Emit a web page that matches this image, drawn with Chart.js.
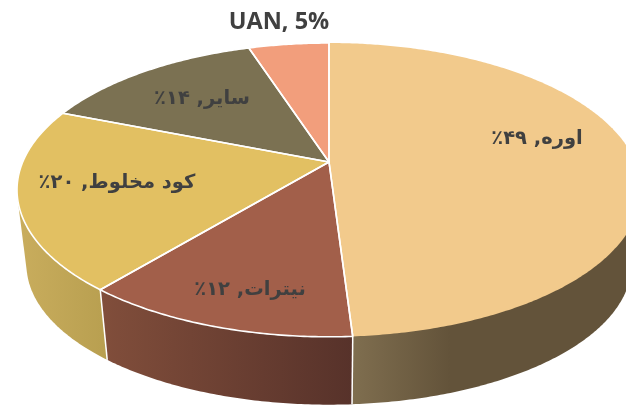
<!DOCTYPE html>
<html><head><meta charset="utf-8">
<style>html,body{margin:0;padding:0;background:#fff;overflow:hidden}canvas{display:block}</style>
<script src="https://cdn.jsdelivr.net/npm/chart.js@4"></script>
</head><body><canvas id="c" width="626" height="405"></canvas>
<script>
const categories = ['اوره','نیترات','کود مخلوط','سایر','UAN'];
const values = [49,12,20,14,5];
const valueLabels = ['۴۹٪','۱۲٪','۲۰٪','۱۴٪','5%'];
const topColors = ['#f2ca8c','#a25f4a','#e2c062','#7b7152','#f29e7c'];

const labelAnchors = [[537,139],[250,290],[117,183],[202,99],[279,22]];
const wallGradients = [
  [[353,'#7f6e4f'],[450,'#63533a']],
  [[101,'#814e3b'],[353,'#57322a']],
  [[18,'#c9ad5d'],[107,'#b89f50']],
  [[60,'#5f5a40'],[250,'#5f5a40']],
  [[250,'#b97a60'],[330,'#b97a60']]
];
const topFace = {x:329,y:162,b:306.3,a:141.6,k:-0.19};
const baseFace = {x:329,y:238,b:297,a:135,k:-0.19};

function project(f,ang){
  const u=Math.cos(ang), v=Math.sin(ang), w=1+f.k*v;
  return [f.x+f.b*u/w, f.y+f.a*v/w];
}
function arcPoints(f,s,e){
  const n=Math.max(4,Math.ceil(Math.abs(e-s)/0.01)), p=[];
  for(let i=0;i<=n;i++) p.push(project(f,s+(e-s)*i/n));
  return p;
}
function hull(pts){
  const a=pts.slice().sort((p,q)=>p[0]-q[0]||p[1]-q[1]);
  const cross=(o,p,q)=>(p[0]-o[0])*(q[1]-o[1])-(p[1]-o[1])*(q[0]-o[0]);
  const lo=[],up=[];
  for(const p of a){while(lo.length>1&&cross(lo[lo.length-2],lo[lo.length-1],p)<=0)lo.pop();lo.push(p);}
  for(const p of a.reverse()){while(up.length>1&&cross(up[up.length-2],up[up.length-1],p)<=0)up.pop();up.push(p);}
  lo.pop();up.pop();
  return lo.concat(up);
}
const perspectivePie = {
  id:'perspectivePie',
  beforeDatasetsDraw(chart){
    const ctx=chart.ctx, arcs=chart.getDatasetMeta(0).data;
    ctx.save();
    ctx.lineJoin='round';
    // side walls (front half only)
    arcs.forEach((arc,i)=>{
      if(arc.startAngle>=Math.PI||arc.endAngle<=0) return;
      const s=Math.max(arc.startAngle,0), e=Math.min(arc.endAngle,Math.PI);
      const h=hull(arcPoints(topFace,s,e).concat(arcPoints(baseFace,s,e)));
      const g=ctx.createLinearGradient(wallGradients[i][0][0],0,wallGradients[i][1][0],0);
      g.addColorStop(0,wallGradients[i][0][1]); g.addColorStop(1,wallGradients[i][1][1]);
      ctx.beginPath();
      h.forEach((p,j)=>j?ctx.lineTo(p[0],p[1]):ctx.moveTo(p[0],p[1]));
      ctx.closePath(); ctx.fillStyle=g; ctx.fill();
    });
    // wall dividers on the visible front
    ctx.strokeStyle='#fff'; ctx.lineWidth=1.5;
    arcs.forEach(arc=>{
      if(Math.sin(arc.startAngle)>0.3){
        const p=project(topFace,arc.startAngle), q=project(baseFace,arc.startAngle);
        ctx.beginPath(); ctx.moveTo(p[0],p[1]); ctx.lineTo(q[0],q[1]); ctx.stroke();
      }
    });
    // top faces
    const c=[topFace.x,topFace.y];
    arcs.forEach((arc,i)=>{
      const t=arcPoints(topFace,arc.startAngle,arc.endAngle);
      ctx.beginPath(); ctx.moveTo(c[0],c[1]);
      t.forEach(p=>ctx.lineTo(p[0],p[1])); ctx.closePath();
      ctx.fillStyle=topColors[i]; ctx.fill();
    });
    arcs.forEach((arc,i)=>{
      const t=arcPoints(topFace,arc.startAngle,arc.endAngle);
      ctx.beginPath();
      if(i===0){ // no light rim on the right slice, only its radial sides
        ctx.moveTo(t[0][0],t[0][1]); ctx.lineTo(c[0],c[1]); ctx.lineTo(t[t.length-1][0],t[t.length-1][1]);
      } else {
        ctx.moveTo(c[0],c[1]); t.forEach(p=>ctx.lineTo(p[0],p[1])); ctx.closePath();
      }
      ctx.lineWidth=1.6; ctx.strokeStyle='#fff'; ctx.stroke();
    });
    // labels
    ctx.fillStyle='#404040'; ctx.textBaseline='middle'; ctx.textAlign='center';
    categories.forEach((name,i)=>{
      const latin=/^[A-Z]/.test(name);
      ctx.direction=latin?'ltr':'rtl';
      ctx.font=latin?'bold 23.5px "Open Sans"':'bold 19.5px "DejaVu Sans"';
      ctx.fillText(name+', '+valueLabels[i],labelAnchors[i][0],labelAnchors[i][1]);
    });
    ctx.restore();
    return false;
  }
};
new Chart(document.getElementById('c'),{
  type:'pie',
  data:{labels:categories,datasets:[{data:values,backgroundColor:topColors}]},
  options:{responsive:false,animation:false,plugins:{legend:{display:false},tooltip:{enabled:false}}},
  plugins:[perspectivePie]
});
</script></body></html>
